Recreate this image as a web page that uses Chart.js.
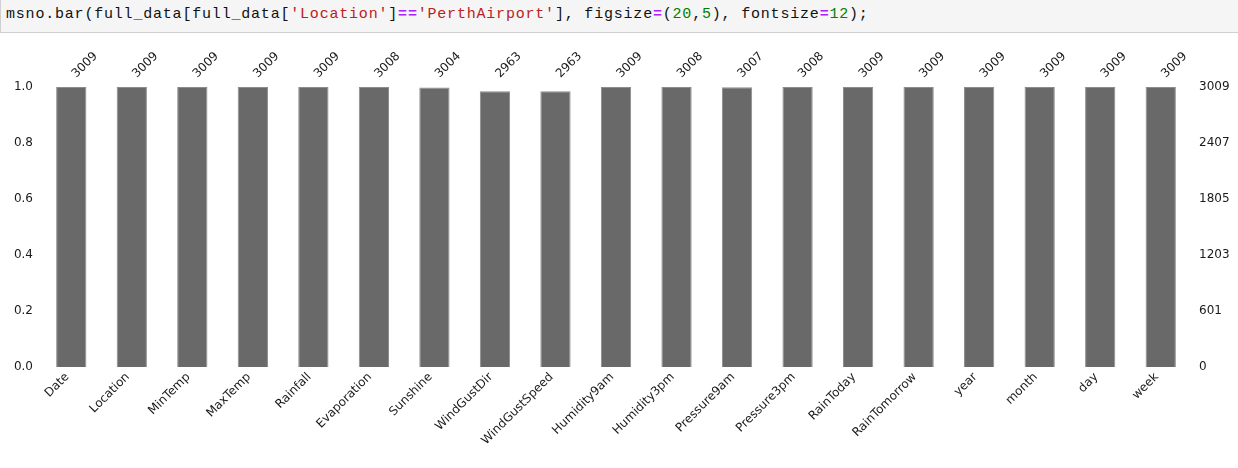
<!DOCTYPE html>
<html>
<head>
<meta charset="utf-8">
<script src="https://cdn.jsdelivr.net/npm/chart.js@4"></script>
<style>
    html, body { margin: 0; padding: 0; background: #fff; width: 1238px; height: 468px; overflow: hidden; }
    .code-cell {
        position: absolute; left: 0; top: -1px; width: 1240px; height: 34px;
        background: #f5f5f5; border: 1px solid #cfcfcf; box-sizing: border-box;
    }
    .code-cell pre {
        margin: 0; padding: 6px 0 0 5px;
        font-family: "Liberation Mono", "DejaVu Sans Mono", monospace;
        font-size: 15px; letter-spacing: 0.8px; color: #111;
    }
    .s { color: #ba2121; }
    .o { color: #aa22ff; font-weight: bold; }
    .n { color: #008000; }
    .chart-box { position: absolute; left: 0; top: 34px; width: 1238px; height: 434px; }
</style>
</head>
<body>
<div class="code-cell"><pre>msno.bar(full_data[full_data[<span class="s">'Location'</span>]<span class="o">==</span><span class="s">'PerthAirport'</span>], figsize<span class="o">=</span>(<span class="n">20</span>,<span class="n">5</span>), fontsize<span class="o">=</span><span class="n">12</span>);</pre></div>
<div class="chart-box"><canvas id="barChart" width="1238" height="434"></canvas></div>
<script>
const columns = ['Date', 'Location', 'MinTemp', 'MaxTemp', 'Rainfall', 'Evaporation', 'Sunshine',
    'WindGustDir', 'WindGustSpeed', 'Humidity9am', 'Humidity3pm', 'Pressure9am', 'Pressure3pm',
    'RainToday', 'RainTomorrow', 'year', 'month', 'day', 'week'];
const counts = [3009, 3009, 3009, 3009, 3009, 3008, 3004, 2963, 2963, 3009, 3008, 3007, 3008,
    3009, 3009, 3009, 3009, 3009, 3009];
const totalRows = 3009;
const leftTicks = ['0.0', '0.2', '0.4', '0.6', '0.8', '1.0'];
const rightTicks = ['0', '601', '1203', '1805', '2407', '3009'];

document.addEventListener('DOMContentLoaded', () => {
    drawNullityBar();
});

function drawNullityBar() {
    const ctx = document.getElementById('barChart').getContext('2d');
    const tickFont = { family: 'DejaVu Sans', size: 12 };
    const tickColor = '#1a1a1a';
    const noGrid = { display: false, drawTicks: false };

    new Chart(ctx, {
        type: 'bar',
        data: {
            labels: columns,
            datasets: [{
                data: counts.map(c => c / totalRows),
                backgroundColor: '#696969',
                borderColor: '#8c8c8c',
                borderWidth: 1,
                barPercentage: 0.5,
                categoryPercentage: 1.0
            }]
        },
        options: {
            responsive: false,
            animation: false,
            layout: { padding: 0 },
            plugins: {
                legend: { display: false },
                tooltip: { enabled: false }
            },
            scales: {
                x: {
                    position: 'bottom',
                    grid: noGrid,
                    border: { display: false },
                    ticks: {
                        font: tickFont, color: tickColor,
                        autoSkip: false, minRotation: 45, maxRotation: 45,
                        padding: 3, labelOffset: -4
                    },
                    afterFit: scale => { scale.height = 101; }
                },
                x2: {
                    type: 'category',
                    position: 'top',
                    labels: counts.map(String),
                    offset: true,
                    grid: noGrid,
                    border: { display: false },
                    ticks: {
                        font: tickFont, color: tickColor,
                        autoSkip: false, minRotation: 45, maxRotation: 45,
                        padding: 6, labelOffset: 13
                    },
                    afterFit: scale => { scale.height = 53; }
                },
                y: {
                    position: 'left',
                    min: 0, max: 1,
                    grid: noGrid,
                    border: { display: false },
                    ticks: {
                        stepSize: 0.2, font: tickFont, color: tickColor, padding: 8,
                        callback: (value, index) => leftTicks[index]
                    },
                    afterFit: scale => { scale.width = 41; }
                },
                y2: {
                    position: 'right',
                    min: 0, max: 1,
                    grid: noGrid,
                    border: { display: false },
                    ticks: {
                        stepSize: 0.2, font: tickFont, color: tickColor, padding: 8,
                        callback: (value, index) => rightTicks[index]
                    },
                    afterFit: scale => { scale.width = 47; }
                }
            }
        }
    });
}
</script>
</body>
</html>
